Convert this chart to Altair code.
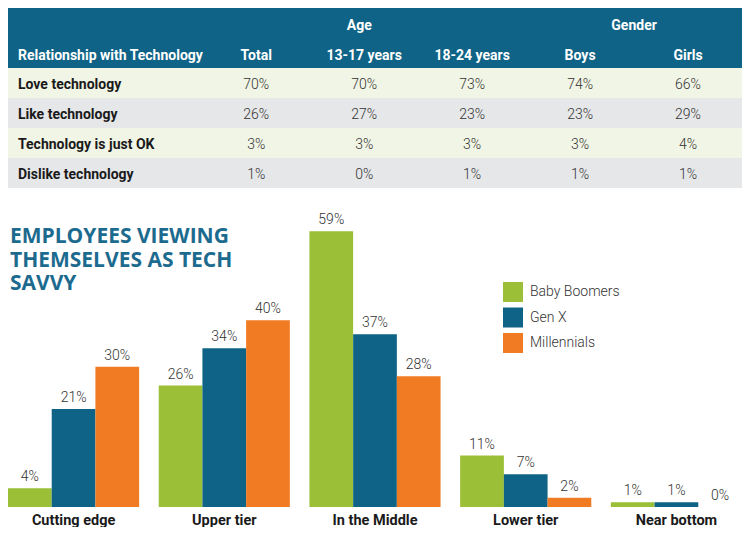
import altair as alt
import pandas as pd

# ---------------- data ----------------
row_header = "Relationship with Technology"
group_headers = ["Age", "Gender"]
table_rows = ["Love technology", "Like technology", "Technology is just OK", "Dislike technology"]
table_cols = ["Total", "13-17 years", "18-24 years", "Boys", "Girls"]
total = [70, 26, 3, 1]
age_13_17 = [70, 27, 3, 0]
age_18_24 = [73, 23, 3, 1]
boys = [74, 23, 3, 1]
girls = [66, 29, 4, 1]

chart_title = ["EMPLOYEES VIEWING", "THEMSELVES AS TECH", "SAVVY"]
categories = ["Cutting edge", "Upper tier", "In the Middle", "Lower tier", "Near bottom"]
generations = ["Baby Boomers", "Gen X", "Millennials"]
baby_boomers = [4, 26, 59, 11, 1]
gen_x = [21, 34, 37, 7, 1]
millennials = [30, 40, 28, 2, 0]

# ---------------- styles ----------------
W = 734
BLUE = "#0f6386"
GREEN = "#9bbf36"
ORANGE = "#f07b22"
TITLE_BLUE = "#1c6b8f"
NARROW = "Roboto"

# ---------------- table ----------------
row_domain = ["hdr1", "hdr2"] + table_rows
row_colors = [BLUE, BLUE, "#f1f5e5", "#e6e7e9", "#f1f5e5", "#e6e7e9"]
yscale = alt.Scale(type="band", domain=row_domain, paddingInner=0, paddingOuter=0)
xscale = alt.Scale(type="band", domain=table_cols, paddingInner=0, paddingOuter=0.9, align=1)

bg_df = pd.DataFrame({"row": row_domain})
bg_layer = alt.Chart(bg_df).mark_rect().encode(
    y=alt.Y("row:N", scale=yscale, axis=None),
    fill=alt.Fill("row:N", scale=alt.Scale(domain=row_domain, range=row_colors), legend=None),
)

col_df = pd.DataFrame({"col": table_cols, "row": ["hdr2"] * len(table_cols)})
col_hdr = alt.Chart(col_df).mark_text(
    font=NARROW, fontSize=14, fontWeight="bold", color="white", baseline="middle", dy=3
).encode(
    x=alt.X("col:N", scale=xscale, axis=None),
    y=alt.Y("row:N", scale=yscale, axis=None),
    text="col:N",
)

age_df = pd.DataFrame({"col": ["13-17 years"], "row": ["hdr1"], "t": [group_headers[0]]})
age_hdr = alt.Chart(age_df).mark_text(
    font=NARROW, fontSize=14, fontWeight="bold", color="white", baseline="middle", dy=3, dx=-5
).encode(
    x=alt.X("col:N", scale=xscale, axis=None),
    y=alt.Y("row:N", scale=yscale, axis=None),
    text="t:N",
)
gen_df = pd.DataFrame({"col": ["Boys"], "row": ["hdr1"], "t": [group_headers[1]]})
gen_hdr = alt.Chart(gen_df).mark_text(
    font=NARROW, fontSize=14, fontWeight="bold", color="white", baseline="middle", dy=3, dx=54
).encode(
    x=alt.X("col:N", scale=xscale, axis=None),
    y=alt.Y("row:N", scale=yscale, axis=None),
    text="t:N",
)

rh_df = pd.DataFrame({"row": ["hdr2"], "t": [row_header]})
row_hdr = alt.Chart(rh_df).mark_text(
    font=NARROW, fontSize=14, fontWeight="bold", color="white", baseline="middle", align="left", dy=3
).encode(
    x=alt.value(10),
    y=alt.Y("row:N", scale=yscale, axis=None),
    text="t:N",
)

rl_df = pd.DataFrame({"row": table_rows})
row_lbl = alt.Chart(rl_df).mark_text(
    font=NARROW, fontSize=14, fontWeight="bold", color="#1a1a1a", baseline="middle", align="left", dy=2
).encode(
    x=alt.value(10),
    y=alt.Y("row:N", scale=yscale, axis=None),
    text="row:N",
)

vals = []
for c, series in zip(table_cols, [total, age_13_17, age_18_24, boys, girls]):
    for r, v in zip(table_rows, series):
        vals.append({"col": c, "row": r, "t": f"{v}%"})
val_df = pd.DataFrame(vals)
val_txt = alt.Chart(val_df).mark_text(
    font=NARROW, fontSize=14, fontWeight=300, color="#333333", baseline="middle", dy=2
).encode(
    x=alt.X("col:N", scale=xscale, axis=None),
    y=alt.Y("row:N", scale=yscale, axis=None),
    text="t:N",
)

table = alt.layer(bg_layer, col_hdr, age_hdr, gen_hdr, row_hdr, row_lbl, val_txt).properties(
    width=W, height=180
)

# ---------------- bar chart ----------------
bar_rows = []
for g, series in zip(generations, [baby_boomers, gen_x, millennials]):
    for c, v in zip(categories, series):
        bar_rows.append({"category": c, "generation": g, "value": v, "label": f"{v}%"})
bar_df = pd.DataFrame(bar_rows)

x_enc = alt.X(
    "category:N",
    sort=categories,
    scale=alt.Scale(domain=categories, paddingInner=0.13, paddingOuter=0),
    axis=alt.Axis(
        title=None, labelAngle=0, domain=False, ticks=False, labelFont=NARROW,
        labelFontSize=14.5, labelFontWeight="bold", labelColor="#1a1a1a", labelPadding=6,
    ),
)
xo_enc = alt.XOffset("generation:N", sort=generations,
                     scale=alt.Scale(domain=generations, paddingInner=0, paddingOuter=0))
y_enc = alt.Y("value:Q", scale=alt.Scale(domain=[0, 67]), axis=None)

bars = alt.Chart(bar_df).mark_bar().encode(
    x=x_enc,
    xOffset=xo_enc,
    y=y_enc,
    color=alt.Color(
        "generation:N",
        scale=alt.Scale(domain=generations, range=[GREEN, BLUE, ORANGE]),
        legend=alt.Legend(
            orient="none", legendX=495, legendY=88, title=None, symbolType="square",
            symbolSize=400, symbolStrokeWidth=0, symbolOpacity=1, labelFont=NARROW,
            labelFontSize=14, labelFontWeight=300, labelColor="#333333", rowPadding=5.5,
            labelOffset=7, padding=0,
        ),
    ),
)

bar_lbl = alt.Chart(bar_df).mark_text(
    font=NARROW, fontSize=14, fontWeight=300, color="#333333", baseline="bottom", dy=-4
).encode(x=x_enc, xOffset=xo_enc, y=y_enc, text="label:N")

title_df = pd.DataFrame({"t": ["\n".join(chart_title)]})
title_txt = alt.Chart(title_df).mark_text(
    font="Open Sans", fontSize=21, fontWeight="bold", color=TITLE_BLUE, align="left",
    baseline="alphabetic", lineBreak="\n", lineHeight=23.5,
).encode(x=alt.value(2), y=alt.value(49), text="t:N")

bar_chart = alt.layer(bars, bar_lbl, title_txt).properties(width=W, height=313)

chart = (
    alt.vconcat(table, bar_chart, spacing=6)
    .resolve_scale(color="independent", fill="independent")
    .properties(padding=0)
    .configure_view(stroke=None)
)

chart.save("out.html", embed_options={"renderer": "svg", "actions": False})
